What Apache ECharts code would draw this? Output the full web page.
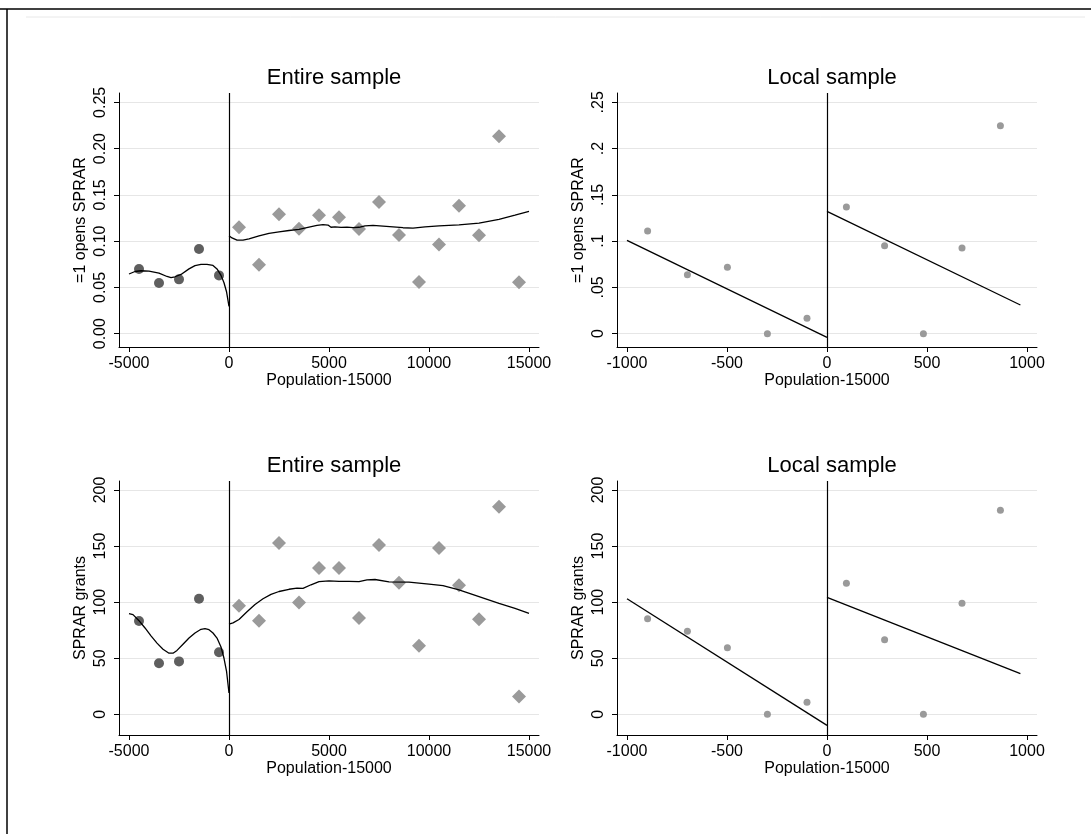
<!DOCTYPE html>
<html>
<head>
<meta charset="utf-8">
<script src="https://cdn.jsdelivr.net/npm/echarts@6/dist/echarts.min.js"></script>
<style>html,body{margin:0;padding:0;background:#fff;}#c{width:1091px;height:834px;}</style>
</head>
<body>
<div id="c"></div>
<script>
// ---------- DATA ----------
// Entire sample: binned means (below / above threshold)
const binXBelow = [-4500, -3500, -2500, -1500, -500];
const binXAbove = [500, 1500, 2500, 3500, 4500, 5500, 6500, 7500, 8500, 9500, 10500, 11500, 12500, 13500, 14500];
const shareBelow = [0.0699, 0.0548, 0.0587, 0.0915, 0.0630];
const shareAbove = [0.1149, 0.0746, 0.1290, 0.1135, 0.1279, 0.1257, 0.1131, 0.1423, 0.1066, 0.0558, 0.0965, 0.1383, 0.1063, 0.2133, 0.0555];
const grantsBelow = [83.2, 45.5, 47.2, 103.1, 55.3];
const grantsAbove = [96.9, 83.5, 152.7, 99.6, 130.5, 130.5, 85.9, 151.0, 117.4, 61.2, 148.3, 115.0, 84.7, 185.1, 16.0];

// Entire sample: lowess fits
const lowShareLeftX = [-5000, -4700, -4400, -4000, -3500, -3100, -2900, -2700, -2400, -2000, -1700, -1400, -1100, -800, -600, -400, -250, -120, 0];
const lowShareLeftY = [0.0645, 0.0672, 0.0680, 0.0675, 0.0655, 0.0618, 0.0605, 0.0615, 0.0640, 0.0700, 0.0735, 0.0748, 0.0748, 0.0738, 0.0700, 0.0630, 0.0550, 0.0450, 0.0295];
const lowShareRightX = [0, 150, 400, 700, 1000, 1500, 2000, 2500, 3000, 3500, 4000, 4400, 4700, 4950, 5100, 5300, 5600, 5900, 6200, 6500, 6800, 7200, 7700, 8200, 8700, 9200, 9800, 10500, 11500, 12500, 13500, 14300, 15000];
const lowShareRightY = [0.1059, 0.1035, 0.1012, 0.1010, 0.1025, 0.1058, 0.1085, 0.1100, 0.1115, 0.1128, 0.1152, 0.1170, 0.1178, 0.1174, 0.1150, 0.1155, 0.1148, 0.1152, 0.1146, 0.1150, 0.1165, 0.1170, 0.1163, 0.1155, 0.1145, 0.1140, 0.1155, 0.1165, 0.1175, 0.1195, 0.1235, 0.1280, 0.1322];
const lowGrantsLeftX = [-5000, -4800, -4500, -4200, -3900, -3600, -3300, -3000, -2800, -2600, -2300, -2000, -1700, -1400, -1200, -1000, -800, -600, -400, -250, -120, 0];
const lowGrantsLeftY = [89.7, 88.9, 83.5, 77.0, 70.0, 63.5, 58.0, 54.5, 54.5, 57.0, 62.5, 68.0, 72.5, 75.8, 76.4, 75.5, 72.5, 68.0, 60.0, 50.0, 38.0, 19.0];
const lowGrantsRightX = [0, 200, 500, 900, 1300, 1700, 2100, 2500, 3000, 3400, 3700, 4100, 4500, 5000, 5500, 6000, 6500, 6900, 7300, 8000, 9000, 10000, 10700, 11500, 12500, 13500, 14300, 15000];
const lowGrantsRightY = [80.5, 81.5, 84.5, 91.5, 98.0, 103.0, 107.0, 109.5, 111.5, 112.5, 112.3, 115.5, 118.3, 119.0, 118.6, 118.5, 118.3, 119.8, 120.2, 118.0, 117.8, 116.0, 114.7, 111.0, 105.0, 99.0, 94.5, 90.0];

// Local sample: binned means
const localX = [-897, -698, -498, -298, -100, 97, 288, 482, 675, 867];
const localShare = [0.111, 0.0638, 0.0717, 0.0, 0.0166, 0.1369, 0.0951, 0.0, 0.0926, 0.2248];
const localGrants = [85.3, 74.0, 59.4, 0.0, 10.7, 116.8, 66.6, 0.0, 99.0, 181.9];

// Local sample: linear fits
const linLeftX = [-1000, 0];
const linRightX = [0, 967];
const linShareLeftY = [0.1009, -0.004];
const linShareRightY = [0.1322, 0.031];
const linGrantsLeftY = [103.1, -9.8];
const linGrantsRightY = [104.3, 36.3];

// Ticks and labels
const xTicksEntire = [-5000, 0, 5000, 10000, 15000];
const xTicksLocal = [-1000, -500, 0, 500, 1000];
const yTicksShare = [0, 0.05, 0.10, 0.15, 0.20, 0.25];
const yLabelsShareEntire = ['0.00', '0.05', '0.10', '0.15', '0.20', '0.25'];
const yLabelsShareLocal = ['0', '.05', '.1', '.15', '.2', '.25'];
const yTicksGrants = [0, 50, 100, 150, 200];
const yLabelsGrants = ['0', '50', '100', '150', '200'];

const panelTitles = ['Entire sample', 'Local sample', 'Entire sample', 'Local sample'];
const xTitle = 'Population-15000';
const yTitles = ['=1 opens SPRAR', '=1 opens SPRAR', 'SPRAR grants', 'SPRAR grants'];

// ---------- BUILD ----------
const zip = (a, b) => a.map((v, i) => [v, b[i]]);
const FONT = 'Liberation Sans, Arial, Helvetica, sans-serif';

const grids = [
  {left: 119, top: 93, width: 420, height: 254},
  {left: 617, top: 93, width: 420, height: 254},
  {left: 119, top: 481, width: 420, height: 254},
  {left: 617, top: 481, width: 420, height: 254}
];

function labelLookup(ticks, labels) {
  return function (v) {
    let best = 0, d = Infinity;
    ticks.forEach((t, i) => { const dd = Math.abs(t - v); if (dd < d) { d = dd; best = i; } });
    return labels[best];
  };
}

function xAxis(gi, ticks, min, max) {
  return {
    type: 'value', gridIndex: gi, min: min, max: max,
    name: xTitle, nameLocation: 'middle', nameGap: 25,
    nameTextStyle: {fontFamily: FONT, fontSize: 16, color: '#000'},
    axisLine: {show: true, onZero: false, lineStyle: {color: '#000', width: 1}},
    axisTick: {show: true, inside: false, length: 5, customValues: ticks, lineStyle: {color: '#000', width: 1}},
    axisLabel: {customValues: ticks, fontFamily: FONT, fontSize: 16, color: '#000', margin: 9,
      formatter: v => String(Math.round(v))},
    splitLine: {show: false}
  };
}
function yAxis(gi, ticks, labels, min, max, name) {
  return {
    type: 'value', gridIndex: gi, min: min, max: max,
    name: name, nameLocation: 'middle', nameGap: 30, nameRotate: 90,
    nameTextStyle: {fontFamily: FONT, fontSize: 16, color: '#000'},
    axisLine: {show: true, onZero: false, lineStyle: {color: '#000', width: 1}},
    axisTick: {show: true, inside: false, length: 5, customValues: ticks, lineStyle: {color: '#000', width: 1}},
    axisLabel: {customValues: ticks, rotate: 90, fontFamily: FONT, fontSize: 16, color: '#000', margin: 10,
      formatter: labelLookup(ticks, labels)},
    splitLine: {show: true, lineStyle: {color: '#e6e6e6', width: 1.2}}
  };
}

const xAxes = [
  xAxis(0, xTicksEntire, -5500, 15500),
  xAxis(1, xTicksLocal, -1050, 1050),
  xAxis(2, xTicksEntire, -5500, 15500),
  xAxis(3, xTicksLocal, -1050, 1050)
];
const yAxes = [
  yAxis(0, yTicksShare, yLabelsShareEntire, -0.0144, 0.2601, yTitles[0]),
  yAxis(1, yTicksShare, yLabelsShareLocal, -0.0144, 0.2601, yTitles[1]),
  yAxis(2, yTicksGrants, yLabelsGrants, -18.4, 208, yTitles[2]),
  yAxis(3, yTicksGrants, yLabelsGrants, -18.4, 208, yTitles[3])
];

const vline = {
  silent: true, symbol: ['none', 'none'], label: {show: false},
  lineStyle: {color: '#000', width: 1.2, type: 'solid'},
  data: [{xAxis: 0}]
};
function fitLine(gi, xs, ys, withV) {
  const s = {
    type: 'line', xAxisIndex: gi, yAxisIndex: gi, data: zip(xs, ys),
    showSymbol: false, symbol: 'none', smooth: false, silent: true, z: 3,
    lineStyle: {color: '#000', width: 1.3}
  };
  if (withV) s.markLine = vline;
  return s;
}
function scat(gi, xs, ys, symbol, size, color) {
  return {
    type: 'scatter', xAxisIndex: gi, yAxisIndex: gi, data: zip(xs, ys),
    symbol: symbol, symbolSize: size, itemStyle: {color: color, opacity: 1}, z: 2
  };
}

const series = [
  scat(0, binXBelow, shareBelow, 'circle', 10, '#5f5f5f'),
  scat(0, binXAbove, shareAbove, 'diamond', 14, '#9a9a9a'),
  fitLine(0, lowShareLeftX, lowShareLeftY, true),
  fitLine(0, lowShareRightX, lowShareRightY, false),

  scat(1, localX, localShare, 'circle', 7, '#9a9a9a'),
  fitLine(1, linLeftX, linShareLeftY, true),
  fitLine(1, linRightX, linShareRightY, false),

  scat(2, binXBelow, grantsBelow, 'circle', 10, '#5f5f5f'),
  scat(2, binXAbove, grantsAbove, 'diamond', 14, '#9a9a9a'),
  fitLine(2, lowGrantsLeftX, lowGrantsLeftY, true),
  fitLine(2, lowGrantsRightX, lowGrantsRightY, false),

  scat(3, localX, localGrants, 'circle', 7, '#9a9a9a'),
  fitLine(3, linLeftX, linGrantsLeftY, true),
  fitLine(3, linRightX, linGrantsRightY, false)
];

const titleCenters = [[329, 62], [827, 62], [329, 450], [827, 450]];
const titles = panelTitles.map((t, i) => ({
  text: t, left: titleCenters[i][0], top: titleCenters[i][1], textAlign: 'center',
  textStyle: {fontFamily: FONT, fontSize: 22, fontWeight: 'normal', color: '#000'}
}));

const chart = echarts.init(document.getElementById('c'), null, {renderer: 'canvas'});
chart.setOption({
  backgroundColor: '#fff',
  animation: false,
  title: titles,
  grid: grids,
  xAxis: xAxes,
  yAxis: yAxes,
  series: series,
  graphic: [
    {type: 'line', shape: {x1: 0, y1: 9, x2: 1091, y2: 9}, style: {stroke: '#000', lineWidth: 1.5}, silent: true},
    {type: 'line', shape: {x1: 7, y1: 9, x2: 7, y2: 834}, style: {stroke: '#000', lineWidth: 1.5}, silent: true},
    {type: 'line', shape: {x1: 26, y1: 17, x2: 1085, y2: 17}, style: {stroke: '#e8e8e8', lineWidth: 1}, silent: true}
  ]
});
</script>
</body>
</html>
